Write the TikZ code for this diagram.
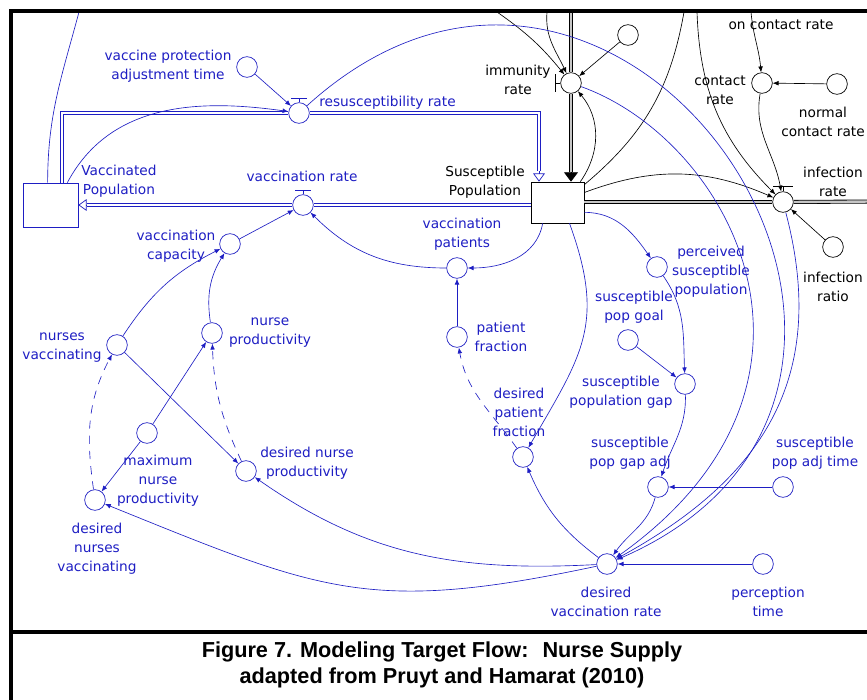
\documentclass[tikz,border=0pt]{standalone}
\usepackage{fontspec}
\setmainfont{DejaVu Sans}
\newfontfamily\capfont{Liberation Sans}
\usetikzlibrary{arrows.meta,calc}

\definecolor{vblue}{RGB}{30,30,195}

\begin{document}
\begin{tikzpicture}[x=0.03cm, y=-0.03cm,
    stock/.style={draw, rectangle, fill=white, inner sep=0pt, line width=0.6pt},
    aux/.style={draw=vblue, circle, fill=white, minimum size=0.62cm,
                inner sep=0pt, line width=0.6pt},
    auxk/.style={aux, draw=black},
    lbl/.style={text=vblue, align=center, inner sep=0pt,
                font=\fontsize{11.7}{16.2}\selectfont},
    lblk/.style={lbl, text=black},
    ar/.style={vblue, line width=0.55pt, -{Latex[length=5pt,width=4pt]}},
    dar/.style={ar, dash pattern=on 7pt off 6pt},
    ark/.style={ar, black},
    lk/.style={vblue, line width=0.55pt},
    lkk/.style={lk, black},
    flw/.style={draw=vblue, line width=0.6pt, double distance=1.6pt},
    flwk/.style={draw=black, line width=0.7pt, double=gray!45, double distance=2pt},
    vbar/.style={line width=1.2pt}
  ]
  \useasboundingbox (0,0) rectangle (867,700);

  % stocks and valves
  \node[stock, draw=vblue, minimum width=1.65cm, minimum height=1.32cm] (vacpop) at (50.5,205) {};
  \node[stock, minimum width=1.59cm, minimum height=1.23cm] (suspop) at (557.5,202.5) {};
  \node[aux] (resval) at (299,113) {};
  \node[aux] (vacval) at (303,205) {};
  \node[auxk] (immval) at (571,83) {};
  \node[auxk] (infval) at (783,202) {};

  % auxiliaries
  \node[aux] (vpat) at (247,67) {};
  \node[aux] (vcap) at (230,244) {};
  \node[aux] (nprod) at (212,333) {};
  \node[aux] (nvac) at (117,345) {};
  \node[aux] (maxnp) at (147,433) {};
  \node[aux] (dnp) at (246,471) {};
  \node[aux] (dnv) at (95,500) {};
  \node[aux] (vpats) at (457,268) {};
  \node[aux] (pfrac) at (457,337) {};
  \node[aux] (dpf) at (523,457) {};
  \node[aux] (psp) at (657,267) {};
  \node[aux] (spg) at (628,340) {};
  \node[aux] (sgap) at (685,384) {};
  \node[aux] (sgadj) at (658,487) {};
  \node[aux] (sadjt) at (783,487) {};
  \node[aux] (dvr) at (607,564) {};
  \node[aux] (ptime) at (763,564) {};
  \node[auxk] (topaux) at (628,35) {};
  \node[auxk] (crate) at (762,83) {};
  \node[auxk] (ncr) at (837,84) {};
  \node[auxk] (iratio) at (833,247) {};

  % labels
  \node[lbl] (lvacpop) at (119,181.5) {Vaccinated\\Population};
  \node[lblk] (lsuspop) at (485,182) {Susceptible\\Population};
  \node[lbl] (lresval) at (387.5,103) {resusceptibility rate};
  \node[lbl] (lvacval) at (302,176) {vaccination rate};
  \node[lblk] (limmval) at (518,80) {immunity\\rate};
  \node[lblk] (linfval) at (833,181.5) {infection\\rate};
  \node[lbl] (lvpat) at (168,66.5) {vaccine protection\\adjustment time};
  \node[lbl] (lvcap) at (176,246) {vaccination\\capacity};
  \node[lbl] (lnprod) at (270,333) {nurse\\productivity};
  \node[lbl] (lnvac) at (62,347.5) {nurses\\vaccinating};
  \node[lbl] (lmaxnp) at (158,481) {maximum\\nurse\\productivity};
  \node[lbl] (ldnp) at (307,463) {desired nurse\\productivity};
  \node[lbl] (ldnv) at (97,549) {desired\\nurses\\vaccinating};
  \node[lbl] (lvpats) at (462,234.5) {vaccination\\patients};
  \node[lbl] (lpfrac) at (501,336.5) {patient\\fraction};
  \node[lbl] (ldpf) at (519,412.5) {desired\\patient\\fraction};
  \node[lbl] (lpsp) at (711,272) {perceived\\susceptible\\population};
  \node[lbl] (lspg) at (634,307) {susceptible\\pop goal};
  \node[lbl] (lsgap) at (621,392) {susceptible\\population gap};
  \node[lbl] (lsgadj) at (630,453) {susceptible\\pop gap adj};
  \node[lbl] (lsadjt) at (815,453) {susceptible\\pop adj time};
  \node[lbl] (ldvr) at (606,601.5) {desired\\vaccination rate};
  \node[lbl] (lptime) at (768,601.5) {perception\\time};
  \node[lblk] (lcrate) at (720,90.5) {contact\\rate};
  \node[lblk] (lncr) at (823,122) {normal\\contact rate};
  \node[lblk] (liratio) at (833,287) {infection\\ratio};
  \node[lblk] (lonc) at (781,25) {on contact rate};

  % loose ends at the top edge
  \coordinate (tA) at (497,12);
  \coordinate (tB) at (547,12);
  \coordinate (tC) at (684,12);
  \coordinate (tD) at (697,12);
  \coordinate (tE) at (751,12);
  \coordinate (tF) at (79,12);
  \coordinate (iTop) at (571,12);
  \coordinate (iRight) at (880,201.5);
  \coordinate (vfA) at (87,205);
  \coordinate (rA) at (62,183);
  \coordinate (rB) at (539,171);
  \coordinate (iB) at (571,172);

  % flows
  \draw[flw] (suspop.west |- vacval) -- (vacval);
  \draw[flw] (vacval) -- (vfA);
  \draw[vblue, line width=0.6pt, -{Triangle[open, length=7pt, width=10pt]}] (vfA) -- (vfA -| vacpop.east);
  \draw[flw] (rA) |- (resval);
  \draw[flw] (resval) -| (rB);
  \draw[vblue, line width=0.6pt, -{Triangle[open, length=7pt, width=10pt]}] (rB) -- (rB |- suspop.north);
  \draw[flwk] (iTop) -- (immval);
  \draw[flwk] (immval) -- (iB);
  \draw[line width=0.6pt, -{Triangle[length=8pt, width=12pt]}] (iB) -- (iB |- suspop.north);
  \draw[flwk] (suspop.east |- infval) -- (infval);
  \draw[flwk] (infval) -- (iRight);

  % valve tops
  \draw[vblue, vbar] ($(resval.north)+(-8,-4)$) -- ++(16,0);
  \draw[vblue] ($(resval.north)+(0,-4)$) -- (resval.north);
  \draw[vblue, vbar] ($(vacval.north)+(-8,-4)$) -- ++(16,0);
  \draw[vblue] ($(vacval.north)+(0,-4)$) -- (vacval.north);
  \draw[vbar] ($(infval.north)+(-10,-5)$) -- ++(20,0);
  \draw ($(infval.north)+(0,-5)$) -- (infval.north);
  \draw[vbar] ($(immval.west)+(-5,-9)$) -- ++(0,18);
  \draw ($(immval.west)+(-5,0)$) -- (immval.west);

  % black links
  \draw[ark] (tA) to[bend left=8] (immval);
  \draw[ark] (tB) to[out=-95, in=115] (immval);
  \draw[ark] (topaux) -- (immval);
  \draw[ark] ($(suspop.north east)+(-4,0)$) to[out=55, in=-50] (immval);
  \draw[lkk] ($(suspop.north east)+(0,3)$) to[out=40, in=-100] (tC);
  \draw[ark] ($(suspop.east)+(0,-10)$) to[bend left=22] (infval);
  \draw[ark] (tD) to[out=-88, in=135] (infval);
  \draw[ark] (crate) to[out=-100, in=100] (infval);
  \draw[ark] (ncr) -- (crate);
  \draw[ark] (tE) to[out=-85, in=95] (crate);
  \draw[ark] (iratio) -- (infval);

  % blue links, upper part
  \draw[ar] (vpat) -- (resval);
  \draw[ar] ($(vacpop.north east)+(-11,0)$) to[out=62, in=172] (resval);
  \draw[lk] (tF) to[out=-105, in=90] ($(vacpop.north west)+(25,0)$);
  \draw[ar] (resval) .. controls (627,-185) and (1008,389) .. (dvr);
  \draw[ar] (immval) .. controls (730,140) and (861,383) .. (dvr);
  \draw[ar] (infval) .. controls (830,380) and (760,480) .. (dvr);

  % susceptible side
  \draw[ar] ($(suspop.south west)+(12,0)$) to[out=-100, in=0] (vpats);
  \draw[ar] (vpats) to[out=180, in=-45] (vacval);
  \draw[ar] (pfrac) -- (vpats);
  \draw[dar] (dpf) to[out=125, in=-80] (pfrac);
  \draw[ar] ($(suspop.south)+(12,0)$) to[out=-70, in=60, looseness=1.2] (dpf);
  \draw[ar] ($(suspop.south east)+(0,-11)$) to[out=0, in=125] (psp);
  \draw[ar] (psp) to[out=-55, in=92] (sgap);
  \draw[ar] (spg) -- (sgap);
  \draw[ar] (sgap) to[out=-88, in=72] (sgadj);
  \draw[ar] (sadjt) -- (sgadj);
  \draw[ar] (sgadj) to[out=-105, in=55] (dvr);
  \draw[ar] (ptime) -- (dvr);
  \draw[ar] (dvr) to[bend left=15] (dpf);
  \draw[ar] (dvr) to[out=183, in=-35] (dnp);
  \draw[ar] (dvr) to[out=192, in=-22, looseness=1.2] (dnv);

  % nurse side
  \draw[ar] (vcap) -- (vacval);
  \draw[ar] (nvac) to[bend left=15] (vcap);
  \draw[ar] (nprod) to[bend left=20] (vcap);
  \draw[ar] (nvac) -- (dnp);
  \draw[ar] (maxnp) -- (nprod);
  \draw[ar] (maxnp) -- (dnv);
  \draw[dar] (dnp) to[out=115, in=-88] (nprod);
  \draw[dar] (dnv) to[out=98, in=-118] (nvac);

  % frame and caption
  \draw[line width=2.6pt] (11,712) -- (11,11) -- (880,11);
  \draw[line width=2.6pt] (11,632) -- (880,632);
  \node[font=\capfont\bfseries\fontsize{18.5}{22}\selectfont, align=center, inner sep=0pt]
       (cap) at (442,665) {Figure 7. Modeling Target Flow:~ Nurse Supply\\adapted from Pruyt and Hamarat (2010)};
\end{tikzpicture}
\end{document}
